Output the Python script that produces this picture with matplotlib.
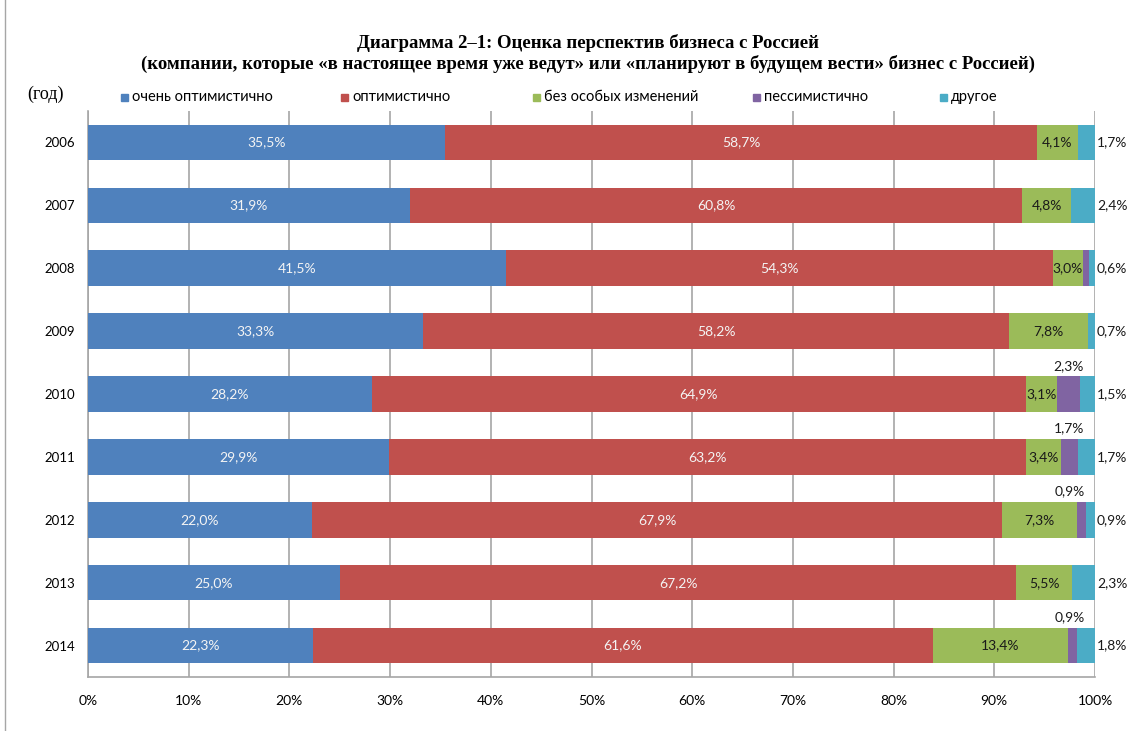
import matplotlib
matplotlib.use("Agg")
import matplotlib.pyplot as plt
from matplotlib.lines import Line2D
from matplotlib.patches import Rectangle
import numpy as np

years = ['2006', '2007', '2008', '2009', '2010', '2011', '2012', '2013', '2014']
very_opt = [35.5, 31.9, 41.5, 33.3, 28.2, 29.9, 22.0, 25.0, 22.3]
opt = [58.7, 60.8, 54.3, 58.2, 64.9, 63.2, 67.9, 67.2, 61.6]
no_change = [4.1, 4.8, 3.0, 7.8, 3.1, 3.4, 7.3, 5.5, 13.4]
pess = [0.0, 0.0, 0.6, 0.0, 2.3, 1.7, 0.9, 0.0, 0.9]
other = [1.7, 2.4, 0.6, 0.7, 1.5, 1.7, 0.9, 2.3, 1.8]
pess_labeled = [False, False, False, False, True, True, True, False, True]

series_names = ['очень оптимистично', 'оптимистично', 'без особых изменений',
                'пессимистично', 'другое']
colors = ['#4F81BD', '#C0504D', '#9BBB59', '#8064A2', '#4BACC6']
title1 = 'Диаграмма 2–1: Оценка перспектив бизнеса с Россией'
title2 = '(компании, которые «в настоящее время уже ведут» или «планируют в будущем вести» бизнес с Россией)'

SANS = ['Lato', 'DejaVu Sans']
SERIF = ['Liberation Serif', 'DejaVu Serif']

def fmt(v):
    return f"{v:.1f}%".replace('.', ',')

W, H = 1129, 731
fig = plt.figure(figsize=(W / 100, H / 100), dpi=100)
ax = fig.add_axes([88 / W, 1 - 677 / H, (1095 - 88) / W, (677 - 111) / H])

data = np.array([very_opt, opt, no_change, pess, other], dtype=float)
totals = data.sum(axis=0)
norm = data / totals * 100
y = np.arange(len(years))
left = np.zeros(len(years))
bar_h = 0.565
for i in range(5):
    ax.barh(y, norm[i], left=left, height=bar_h, color=colors[i], zorder=3)
    for j in range(len(years)):
        v = data[i, j]
        cx = left[j] + norm[i, j] / 2
        if i in (0, 1):
            ax.text(cx, y[j], fmt(v), ha='center', va='center', color='#F4F4F4',
                    fontsize=10, family=SANS, zorder=4)
        elif i == 2:
            ax.text(cx, y[j], fmt(v), ha='center', va='center', color='#1a1a1a',
                    fontsize=10, family=SANS, zorder=4)
        elif i == 3:
            if pess_labeled[j]:
                ax.text(min(cx, 97.5), y[j] - 0.45, fmt(v), ha='center', va='center',
                        color='#1a1a1a', fontsize=10, family=SANS, zorder=4)
        elif i == 4:
            ax.text(100.2, y[j], fmt(v), ha='left', va='center', color='#1a1a1a',
                    fontsize=10, family=SANS, zorder=4, clip_on=False)
    left += norm[i]

ax.set_xlim(0, 100)
ax.set_ylim(len(years) - 0.5, -0.5)
ax.set_xticks(np.arange(0, 101, 10))
ax.set_xticklabels([f"{t}%" for t in range(0, 101, 10)], family=SANS, fontsize=10)
ax.set_yticks(y)
ax.set_yticklabels(years, family=SANS, fontsize=9.5)
ax.tick_params(length=0, pad=13, axis='x')
ax.tick_params(length=0, pad=9.5, axis='y')
ax.grid(axis='x', color='#A6A6A6', linewidth=1.2, zorder=1)
for s in ['top', 'right']:
    ax.spines[s].set_visible(False)
for s in ['left', 'bottom']:
    ax.spines[s].set_color('#A6A6A6')
    ax.spines[s].set_linewidth(1.2)

fig.text(588 / W, 1 - 43 / H, title1, ha='center', va='center', fontsize=13.5,
         weight='bold', family=SERIF)
fig.text(588 / W, 1 - 64 / H, title2, ha='center', va='center', fontsize=13.5,
         weight='bold', family=SERIF)
fig.text(27 / W, 1 - 94 / H, '(год)', ha='left', va='center', fontsize=13,
         family=SERIF)

leg_x = [125, 345, 537, 757, 944]
for xs, name, c in zip(leg_x, series_names, colors):
    fig.add_artist(Rectangle(((xs - 4) / W, 1 - 101 / H), 7 / W, 7 / H,
                             transform=fig.transFigure, color=c))
    fig.text((xs + 7) / W, 1 - 97 / H, name, ha='left', va='center',
             fontsize=10.5, family=SANS)

fig.add_artist(Line2D([5 / W, 5 / W], [0, 1], transform=fig.transFigure,
                      color='#A6A6A6', linewidth=1))

fig.savefig('out.png', dpi=100)
